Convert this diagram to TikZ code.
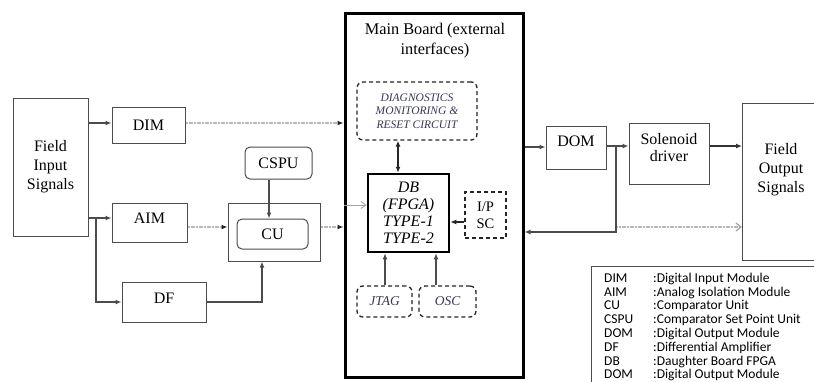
\documentclass[tikz,border=0pt]{standalone}
\usepackage{fontspec}
\setmainfont{Liberation Serif}
\newfontfamily\legendfont{Carlito}
\usetikzlibrary{arrows.meta}
\definecolor{slate}{RGB}{55,55,85}
\tikzset{
  box/.style={draw=black!70, line width=1pt, fill=white, inner sep=0pt, align=center},
  rbox/.style={box, rounded corners=5pt},
  dbox/.style={draw=black!85, line width=1.3pt, dash pattern=on 4pt off 3pt, fill=white, inner sep=0pt, align=center, rounded corners=6pt},
  arr/.style={draw=black!70, line width=1.2pt, -{Latex[length=6pt,width=5pt]}},
  darr/.style={draw=black!85, line width=1.2pt, {Latex[length=6pt,width=5pt]}-{Latex[length=6pt,width=5pt]}},
  dotarr/.style={draw=gray!55, line width=1.3pt, dash pattern=on 1.2pt off 0.4pt, -{Latex[length=6pt,width=5pt,color=black!85]}},
  openarr/.style={draw=gray!70, line width=0.9pt, -{Straight Barb[length=5pt,width=7pt]}},
  opendot/.style={draw=gray!55, line width=1.3pt, dash pattern=on 1.2pt off 0.4pt, -{Straight Barb[length=5pt,width=8pt,color=gray!70]}},
  lbl/.style={font=\fontsize{16}{19}\selectfont},
}
\begin{document}
\begin{tikzpicture}[x=1pt,y=-1pt]
\useasboundingbox (0,0) rectangle (814,381);
% left side
\node[box, minimum width=75, minimum height=138, lbl] (fis) at (50.5,167) {Field\\Input\\Signals};
\node[box, minimum width=73, minimum height=36, lbl] (dim) at (148.5,125) {DIM};
\node[box, minimum width=75, minimum height=39, label={[lbl, yshift=4pt]center:AIM}] (aim) at (149.5,222.5) {};
\node[rbox, minimum width=67, minimum height=32, lbl] (cspu) at (278.5,163) {CSPU};
\node[box, minimum width=92, minimum height=58] (cuo) at (274,232) {};
\node[rbox, minimum width=71, minimum height=30, lbl] (cui) at (272.5,234) {CU};
\node[box, minimum width=84, minimum height=40, label={[lbl, yshift=4pt]center:DF}] (df) at (164,302) {};
% main board
\node[draw=black, line width=3pt, minimum width=178, minimum height=364, inner sep=0pt] (mb) at (434,195) {};
\node[align=center, font=\fontsize{16.3}{20}\selectfont] (mbt) at (435,41) {Main Board (external\\interfaces)};
\node[dbox, minimum width=120, minimum height=58, font=\fontsize{11.5}{13.5}\selectfont\itshape, text=slate] (diag) at (417,111) {DIAGNOSTICS\\MONITORING \&\\RESET CIRCUIT};
\node[draw=black, line width=2.5pt, minimum width=81, minimum height=78, inner sep=0pt, align=center, font=\fontsize{16}{17}\selectfont\itshape] (db) at (408.5,213) {DB\\(FPGA)\\TYPE-1\\TYPE-2};
\node[dbox, rounded corners=0pt, minimum width=41, minimum height=46, font=\fontsize{14.5}{17}\selectfont] (ipsc) at (485.5,215) {I/P\\SC};
\node[dbox, minimum width=55, minimum height=31, font=\fontsize{13.5}{15}\selectfont\itshape, text=slate] (jtag) at (384.5,301.5) {JTAG};
\node[dbox, minimum width=57, minimum height=31, font=\fontsize{13.5}{15}\selectfont\itshape, text=slate] (osc) at (447.5,301.5) {OSC};
% right side
\node[box, minimum width=60, minimum height=43, label={[lbl, yshift=6pt]center:DOM}] (dom) at (576,147.5) {};
\node[box, minimum width=80, minimum height=61, label={[lbl, align=center, yshift=6pt]center:Solenoid\\[-2pt]driver}] (sol) at (669,153.5) {};
\node[box, minimum width=90, minimum height=157, anchor=north west] (fos) at (742,103) {};
\node[lbl, align=center] (fostext) at (781,170) {Field\\Output\\Signals};
% legend
\node[draw=black!70, line width=0.9pt, minimum width=240, minimum height=130, anchor=north west, inner sep=0pt] (leg) at (591,266) {};
\node[anchor=north west, inner sep=0pt, align=left, font=\legendfont\fontsize{13.5}{13.8}\selectfont] (legtext) at (604,272.5) {%
\begin{tabular}{@{}p{49pt}@{}l@{}}
DIM & :Digital Input Module\\
AIM & :Analog Isolation Module\\
CU & :Comparator Unit\\
CSPU & :Comparator Set Point Unit\\
DOM & :Digital Output Module\\
DF & :Differential Amplifier\\
DB & :Daughter Board FPGA\\
DOM & :Digital Output Module
\end{tabular}};
% connectors left
\coordinate (br1) at (96,218);
\draw[arr] (fis.east |- 0,123) -- (dim.west |- 0,123);
\draw[dotarr] (dim.east |- 0,123) -- (mb.west |- 0,123);
\draw[arr] (fis.east |- br1) -- (aim.west |- br1);
\draw[arr] (br1) |- (df.west);
\draw[dotarr] (aim.east |- 0,227) -- (cuo.west |- 0,227);
\draw[arr] (cspu.south -| 269,0) -- (cui.north -| 269,0);
\draw[arr] (df.east) -| (cuo.south -| 262,0);
\draw[dotarr] (cuo.east |- 0,227) -- (mb.west |- 0,227);
% inside main board
\draw[darr] (diag.south -| 398,0) -- (db.north -| 398,0);
\draw[openarr] (mb.west |- 0,205) -- (db.west |- 0,205);
\draw[arr, draw=black!85] (ipsc.west |- 0,222) -- (db.east |- 0,222);
\draw[arr] (jtag.north -| 385,0) -- (db.south -| 385,0);
\draw[arr] (osc.north -| 436,0) -- (db.south -| 436,0);
% right connectors
\coordinate (br2) at (616,146);
\draw[arr] (mb.east |- 0,147) -- (dom.west |- 0,147);
\draw[arr] (dom.east |- br2) -- (sol.west |- br2);
\draw[arr] (br2) |- (mb.east |- 0,232);
\draw[opendot] (617,227) -- (fos.west |- 0,227);
\draw[arr, draw=black!80] (sol.east |- 0,146) -- (fos.west |- 0,146);
\end{tikzpicture}
\end{document}
